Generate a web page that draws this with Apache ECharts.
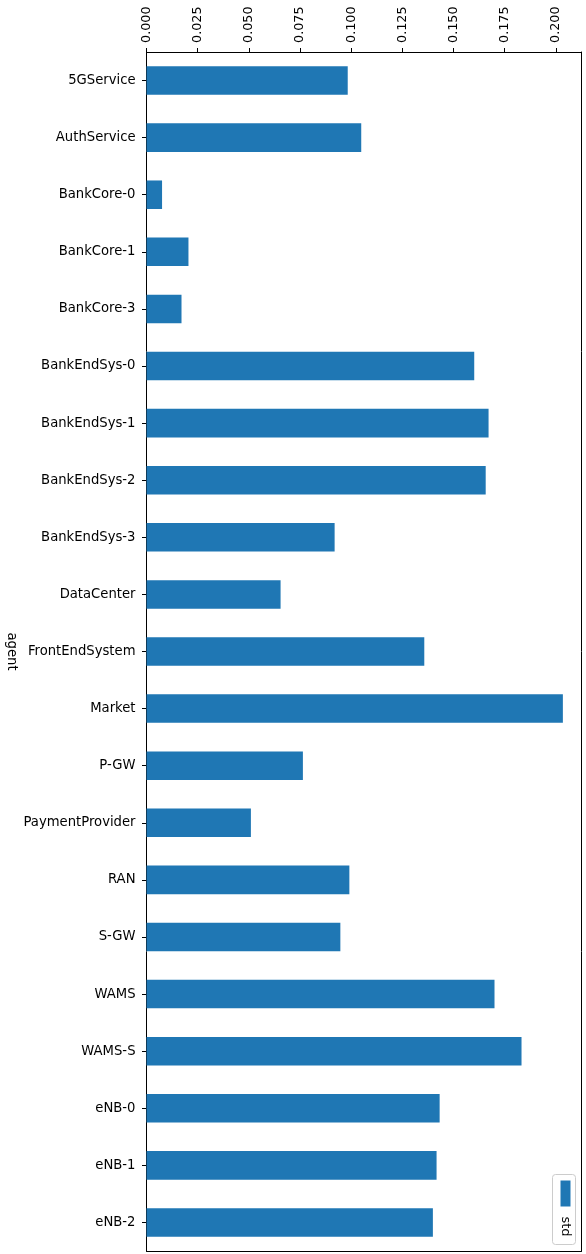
<!DOCTYPE html>
<html>
<head>
<meta charset="utf-8">
<title>std by agent</title>
<script src="https://cdn.jsdelivr.net/npm/echarts@6/dist/echarts.min.js"></script>
<style>
  html, body { margin: 0; padding: 0; background: #ffffff; }
  #chart { width: 586px; height: 1254px; }
</style>
</head>
<body>
<div id="chart"></div>
<script>
// Agents, top to bottom
const agents = [
  '5GService', 'AuthService', 'BankCore-0', 'BankCore-1', 'BankCore-3',
  'BankEndSys-0', 'BankEndSys-1', 'BankEndSys-2', 'BankEndSys-3', 'DataCenter',
  'FrontEndSystem', 'Market', 'P-GW', 'PaymentProvider', 'RAN',
  'S-GW', 'WAMS', 'WAMS-S', 'eNB-0', 'eNB-1', 'eNB-2'
];

// Standard deviation per agent
const stdValues = [
  0.0983, 0.1049, 0.0076, 0.0205, 0.0171,
  0.1601, 0.1671, 0.1657, 0.0919, 0.0655,
  0.1357, 0.2034, 0.0764, 0.0510, 0.0991,
  0.0947, 0.1700, 0.1832, 0.1432, 0.1417, 0.1399
];

// Value axis ticks
const xTickValues = [0, 0.025, 0.05, 0.075, 0.1, 0.125, 0.15, 0.175, 0.2];
const xMax = 0.2125;

const seriesName = 'std';
const axisName = 'agent';

const FONT = 'DejaVu Sans';
const BLUE = '#1f77b4';

const chart = echarts.init(document.getElementById('chart'), null, { renderer: 'canvas' });

chart.setOption({
  animation: false,
  backgroundColor: '#ffffff',
  textStyle: { fontFamily: FONT },
  grid: {
    left: 146.5, right: 4.5, top: 52, bottom: 3,
    containLabel: false,
    outerBoundsMode: 'none'
  },
  xAxis: [
    {
      type: 'value',
      position: 'top',
      min: 0,
      max: xMax,
      interval: 0.025,
      splitLine: { show: false },
      axisLine: { show: true, lineStyle: { color: '#000', width: 1 } },
      axisTick: { show: true, length: 4, customValues: xTickValues, lineStyle: { color: '#000', width: 1 } },
      axisLabel: {
        customValues: xTickValues,
        rotate: -90,
        margin: 9,
        fontFamily: FONT,
        fontSize: 12.8,
        color: '#000',
        formatter: v => v.toFixed(3)
      }
    },
    {
      type: 'value',
      position: 'bottom',
      min: 0,
      max: xMax,
      axisLine: { show: true, onZero: false, lineStyle: { color: '#000', width: 1 } },
      axisTick: { show: false },
      axisLabel: { show: false },
      splitLine: { show: false }
    }
  ],
  yAxis: [
    {
      type: 'category',
      data: agents,
      inverse: true,
      name: axisName,
      nameLocation: 'middle',
      nameRotate: -90,
      nameGap: 129,
      nameMoveOverlap: false,
      nameTextStyle: { fontFamily: FONT, fontSize: 13.2, color: '#000' },
      axisLine: { show: true, lineStyle: { color: '#000', width: 1 } },
      axisTick: { show: true, alignWithLabel: true, length: 4.5, lineStyle: { color: '#000', width: 1 } },
      axisLabel: { margin: 11, fontFamily: FONT, fontSize: 13.2, color: '#000' },
      splitLine: { show: false }
    },
    {
      type: 'category',
      data: agents,
      inverse: true,
      position: 'right',
      axisLine: { show: true, onZero: false, lineStyle: { color: '#000', width: 1 } },
      axisTick: { show: false },
      axisLabel: { show: false },
      splitLine: { show: false }
    }
  ],
  series: [
    {
      name: seriesName,
      type: 'bar',
      xAxisIndex: 0,
      yAxisIndex: 0,
      data: stdValues,
      barCategoryGap: '50%',
      itemStyle: { color: BLUE },
      emphasis: { disabled: true }
    }
  ],
  graphic: [
    {
      type: 'group',
      right: 10,
      bottom: 9,
      children: [
        {
          type: 'rect',
          shape: { x: 0, y: 0, width: 23, height: 70, r: 3 },
          style: { fill: 'rgba(255,255,255,0.8)', stroke: '#cccccc', lineWidth: 1 }
        },
        {
          type: 'rect',
          shape: { x: 8, y: 6, width: 10, height: 26 },
          style: { fill: BLUE }
        },
        {
          type: 'text',
          x: 13,
          y: 52,
          rotation: -Math.PI / 2,
          style: {
            text: seriesName,
            fontFamily: FONT,
            fontSize: 13,
            fill: '#000',
            align: 'center',
            verticalAlign: 'middle'
          }
        }
      ]
    }
  ]
});
</script>
</body>
</html>
